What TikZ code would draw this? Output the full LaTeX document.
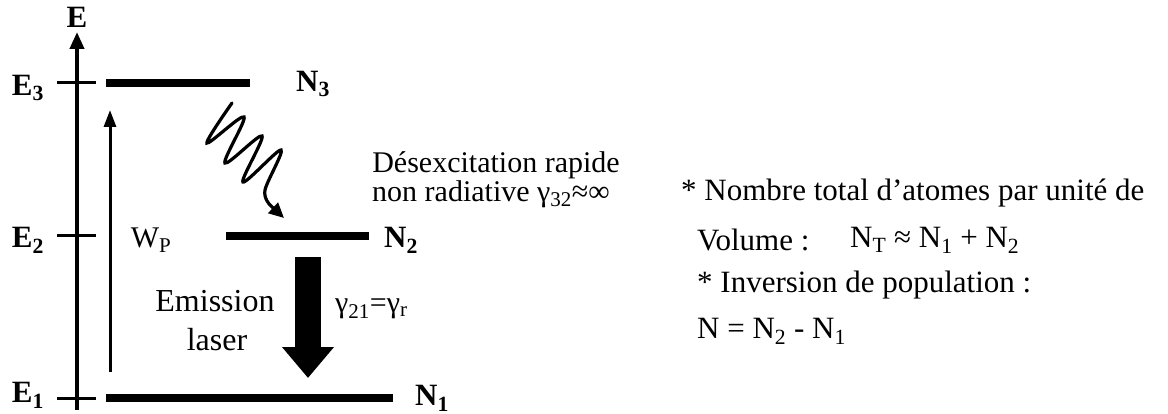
\documentclass[tikz,border=0pt]{standalone}
\usepackage{fontspec}
\setmainfont{Liberation Serif}
\usetikzlibrary{arrows.meta}
\begin{document}
\begin{tikzpicture}[x=1pt,y=-1pt,
  txt/.style={font=\fontsize{30}{34}\selectfont, inner sep=0pt},
  rtxt/.style={font=\fontsize{31}{36}\selectfont, inner sep=0pt, anchor=west},
  emtxt/.style={font=\fontsize{32}{36}\selectfont, inner sep=0pt},
  lbl/.style={font=\fontsize{31}{34}\selectfont\bfseries, inner sep=0pt},
  level/.style={line width=8pt},
  tickmark/.style={line width=3pt},
  axisline/.style={line width=4pt, -{Triangle[length=17pt,width=14pt]}},
  pump/.style={line width=3pt, -{Triangle[length=17pt,width=12pt]}},
  wave/.style={line width=3.2pt, line cap=round, -{Triangle[length=15pt,width=14pt]}},
  bigarrow/.style={line width=26pt, -{Triangle[length=31pt,width=50pt]}}
]
\useasboundingbox (0,0) rectangle (1168,414);

% axis
\coordinate (ax0) at (77,410);
\coordinate (ax1) at (77,32);
\draw[axisline] (ax0) -- (ax1);
\node[lbl] (E) at (77,17) {E};

% ticks
\coordinate (t3a) at (57,83);  \coordinate (t3b) at (96,83);
\coordinate (t2a) at (57,236); \coordinate (t2b) at (96,236);
\coordinate (t1a) at (57,398); \coordinate (t1b) at (96,398);
\draw[tickmark] (t3a) -- (t3b);
\draw[tickmark] (t2a) -- (t2b);
\draw[tickmark] (t1a) -- (t1b);
\node[lbl] (E3) at (28,88) {E\textsubscript{3}};
\node[lbl] (E2) at (28,240) {E\textsubscript{2}};
\node[lbl] (E1) at (28,395) {E\textsubscript{1}};

% levels
\coordinate (l3a) at (106,83);  \coordinate (l3b) at (250,83);
\coordinate (l2a) at (226,236); \coordinate (l2b) at (369,236);
\coordinate (l1a) at (106,398); \coordinate (l1b) at (393,398);
\draw[level] (l3a) -- (l3b);
\draw[level] (l2a) -- (l2b);
\draw[level] (l1a) -- (l1b);
\node[lbl] (N3) at (313,84) {N\textsubscript{3}};
\node[lbl] (N2) at (401,240) {N\textsubscript{2}};
\node[lbl] (N1) at (432,398) {N\textsubscript{1}};

% pump arrow
\coordinate (p0) at (110,372);
\coordinate (p1) at (110,110);
\draw[pump] (p0) -- (p1);
\node[txt] (WP) at (151,240) {W\textsubscript{P}};

% non radiative decay (wavy)
\draw[wave] plot[smooth, tension=0.55] coordinates {(232,103) (207,143) (244,117) (225,163) (262,136) (243,182) (281,150) (265,190) (270,205)} -- (284,218);

% laser emission
\coordinate (b0) at (308,257);
\coordinate (b1) at (308,378);
\draw[bigarrow] (b0) -- (b1);
\node[emtxt] (em1) at (215,301) {Emission};
\node[emtxt] (em2) at (217,340) {laser};
\node[txt, anchor=west] (g21) at (335,309) {γ\textsubscript{21}=γ\textsubscript{r}};

% description
\node[txt] (d1) at (496,165) {Désexcitation rapide};
\node[txt] (d2) at (491,194) {non radiative γ\textsubscript{32}≈∞};

% right text
\node[rtxt] (r1) at (681,193) {* Nombre total d’atomes par unité de};
\node[rtxt] (r2) at (697,240) {Volume :};
\node[rtxt] (r3) at (850,240) {N\textsubscript{T} ≈ N\textsubscript{1} + N\textsubscript{2}};
\node[rtxt] (r4) at (697,285) {* Inversion de population :};
\node[rtxt] (r5) at (697,331) {N = N\textsubscript{2} - N\textsubscript{1}};
\end{tikzpicture}
\end{document}
